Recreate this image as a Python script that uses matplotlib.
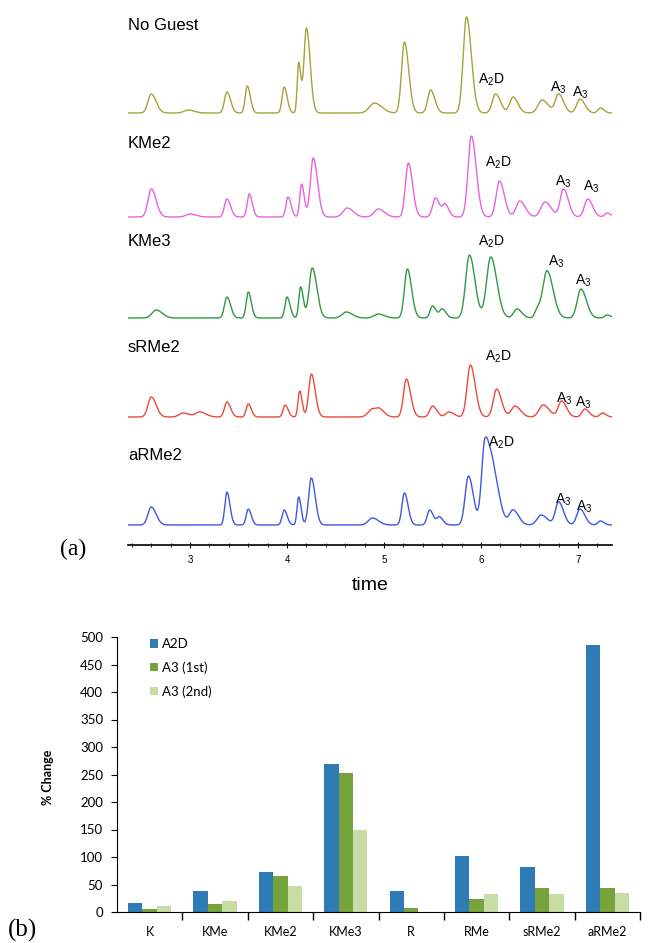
import numpy as np
import matplotlib.pyplot as plt

plt.rcParams['font.family'] = ['Liberation Sans', 'DejaVu Sans']

# ---- panel (a): chromatogram peaks (retention time, height in px above baseline, width)
trace_names = ['No Guest', 'KMe2', 'KMe3', 'sRMe2', 'aRMe2']
trace_colors = ['#a3a43a', '#e763e3', '#2f9a42', '#ea4a3e', '#3f58e0']
baselines = [432, 328, 227, 128, 20]

ng_pos = [2.60, 2.98, 3.38, 3.59, 3.97, 4.12, 4.20, 4.90, 5.21, 5.48, 5.85, 6.15, 6.33, 6.63, 6.80, 7.02, 7.23]
ng_h = [19, 3, 21, 27, 26, 50, 85, 10, 71, 23, 96, 19, 16, 13, 19, 14, 5]
ng_w = [0.04, 0.05, 0.03, 0.025, 0.025, 0.018, 0.03, 0.06, 0.035, 0.035, 0.04, 0.04, 0.04, 0.05, 0.04, 0.04, 0.03]

kme2_pos = [2.60, 3.00, 3.38, 3.61, 4.01, 4.15, 4.27, 4.62, 4.94, 5.25, 5.53, 5.63, 5.90, 6.19, 6.40, 6.66, 6.85, 7.10, 7.30]
kme2_h = [28, 3, 18, 23, 20, 33, 59, 9, 8, 54, 19, 12, 81, 36, 16, 15, 28, 18, 4]
kme2_w = [0.04, 0.05, 0.03, 0.025, 0.025, 0.022, 0.035, 0.05, 0.05, 0.035, 0.035, 0.03, 0.04, 0.04, 0.045, 0.05, 0.04, 0.04, 0.03]

kme3_pos = [2.65, 3.38, 3.60, 4.00, 4.14, 4.26, 4.61, 4.94, 5.24, 5.50, 5.60, 5.88, 6.10, 6.37, 6.58, 6.68, 7.03, 7.30]
kme3_h = [8, 21, 26, 21, 31, 50, 6, 4, 49, 12, 9, 63, 61, 9, 8, 47, 29, 3]
kme3_w = [0.05, 0.03, 0.025, 0.025, 0.022, 0.038, 0.05, 0.05, 0.035, 0.03, 0.03, 0.045, 0.05, 0.04, 0.03, 0.05, 0.045, 0.03]

srme2_pos = [2.60, 2.93, 3.10, 3.38, 3.60, 3.98, 4.13, 4.25, 4.88, 4.96, 5.23, 5.50, 5.67, 5.89, 6.16, 6.35, 6.64, 6.83, 7.07, 7.25]
srme2_h = [20, 4, 5, 15, 13, 12, 26, 43, 8, 5, 38, 11, 5, 52, 28, 11, 12, 16, 8, 4]
srme2_w = [0.04, 0.05, 0.05, 0.03, 0.025, 0.025, 0.02, 0.032, 0.05, 0.04, 0.035, 0.035, 0.04, 0.04, 0.04, 0.045, 0.05, 0.04, 0.035, 0.03]

arme2_pos = [2.60, 3.38, 3.60, 3.97, 4.12, 4.25, 4.88, 5.21, 5.47, 5.57, 5.87, 6.04, 6.13, 6.33, 6.62, 6.80, 7.02, 7.23]
arme2_h = [18, 33, 16, 15, 28, 47, 7, 32, 15, 8, 49, 82, 45, 15, 10, 23, 16, 4]
arme2_w = [0.04, 0.025, 0.025, 0.025, 0.02, 0.032, 0.05, 0.03, 0.03, 0.03, 0.04, 0.04, 0.05, 0.045, 0.05, 0.04, 0.04, 0.03]

# peak labels: (left edge time, px height above panel bottom, text)
a2d = r'$\mathregular{A_2D}$'
a3 = r'$\mathregular{A_3}$'
peak_labels = [
    [(5.97, 465, a2d), (6.71, 457, a3), (6.94, 452, a3)],
    [(6.04, 382, a2d), (6.76, 363, a3), (7.05, 358, a3)],
    [(5.97, 303, a2d), (6.69, 283, a3), (6.97, 264, a3)],
    [(6.04, 188, a2d), (6.77, 146, a3), (6.97, 142, a3)],
    [(6.07, 102, a2d), (6.76, 45, a3), (6.98, 38, a3)],
]
name_y = [520, 402, 303, 197, 90]

# ---- panel (b): % change bars
groups = ['K', 'KMe', 'KMe2', 'KMe3', 'R', 'RMe', 'sRMe2', 'aRMe2']
a2d_change = [16, 39, 73, 269, 39, 102, 81, 486]
a3_first = [5, 14, 65, 253, 7, 23, 43, 43]
a3_second = [11, 20, 47, 149, 0, 32, 32, 34]
bar_labels = ['A2D', 'A3 (1st)', 'A3 (2nd)']
bar_colors = ['#2f7bb6', '#76a33b', '#c8dda3']

W, H = 648, 943
fig = plt.figure(figsize=(W / 100, H / 100), dpi=100)

# panel (a)
ax = fig.add_axes([128 / W, 1 - 545 / H, (612 - 128) / W, 545 / H])
t = np.linspace(2.36, 7.35, 2000)


def trace(pos, h, w):
    y = np.zeros_like(t)
    for p, hh, ww in zip(pos, h, w):
        s = np.where(t < p, ww * 0.85, ww * 1.25)
        y += hh * np.exp(-0.5 * ((t - p) / s) ** 2)
    return y


peaks = [(ng_pos, ng_h, ng_w), (kme2_pos, kme2_h, kme2_w), (kme3_pos, kme3_h, kme3_w),
         (srme2_pos, srme2_h, srme2_w), (arme2_pos, arme2_h, arme2_w)]
for i, (pos, h, w) in enumerate(peaks):
    ax.plot(t, baselines[i] + trace(pos, h, w), color=trace_colors[i], lw=1.0)
    ax.text(2.36, name_y[i], trace_names[i], fontsize=12, va='center', ha='left')
    for lx, ly, s in peak_labels[i]:
        ax.text(lx, ly, s, fontsize=10, va='center', ha='left')

ax.set_xlim(2.36, 7.35)
ax.set_ylim(0, 545)
for sp in ['top', 'right', 'left']:
    ax.spines[sp].set_visible(False)
ax.spines['bottom'].set_linewidth(1.2)
ax.set_yticks([])
ax.set_xticks([3, 4, 5, 6, 7])
ax.set_xticks(np.arange(2.4, 7.4, 0.2), minor=True)
ax.tick_params(axis='x', which='major', direction='inout', length=5, labelsize=7, pad=5)
ax.tick_params(axis='x', which='minor', direction='inout', length=3)
ax.set_xlabel('time', fontsize=14, labelpad=8)
fig.text(60 / W, 1 - 549 / H, '(a)', fontsize=17, family='Liberation Serif', ha='left', va='center')

# panel (b)
bx = fig.add_axes([117 / W, 1 - 912 / H, (640 - 117) / W, (912 - 637) / H])
x = np.arange(len(groups))
bw = 0.22
for k, vals in enumerate([a2d_change, a3_first, a3_second]):
    bx.bar(x + (k - 1) * bw, vals, bw, color=bar_colors[k], label=bar_labels[k])
bx.set_xlim(-0.5, 7.3)
bx.set_ylim(0, 500)
bx.set_yticks(np.arange(0, 501, 50))
bx.set_xticks(x)
bx.set_xticklabels(groups, family='Lato')
bx.set_xticks(np.arange(0.5, len(groups), 1), minor=True)
bx.tick_params(axis='x', which='major', length=0, labelsize=9, pad=10)
bx.tick_params(axis='x', which='minor', length=6, width=1)
bx.tick_params(axis='y', length=4, labelsize=9.5, pad=6)
for lab in bx.get_yticklabels():
    lab.set_family('Lato')
for sp in ['top', 'right']:
    bx.spines[sp].set_visible(False)
bx.set_ylabel('% Change', fontsize=9, fontweight='bold', family='Lato')
bx.yaxis.set_label_coords((54 - 117) / (640 - 117), 0.49)
leg = bx.legend(loc='upper left', bbox_to_anchor=(150 / W, 1 - 638 / H), bbox_transform=fig.transFigure,
                frameon=False, borderaxespad=0, borderpad=0,
                handlelength=0.6, handleheight=0.6, handletextpad=0.3, labelspacing=0.85,
                prop={'family': 'Lato', 'size': 9.5})
fig.text(8 / W, 1 - 930 / H, '(b)', fontsize=18, family='Liberation Serif', ha='left', va='center')

fig.savefig('out.png', dpi=100)
